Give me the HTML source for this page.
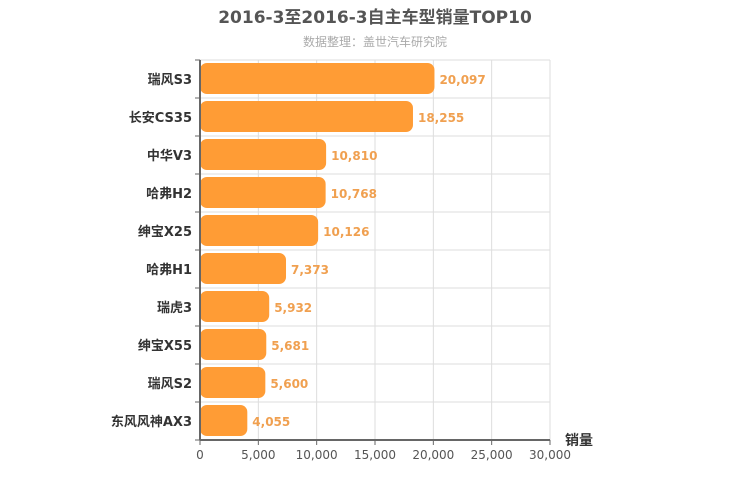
<!DOCTYPE html>
<html><head><meta charset="utf-8"><style>
body{margin:0;background:#fff;}
svg{display:block;font-family:"DejaVu Sans","Liberation Sans","Noto Sans CJK SC",sans-serif;}
</style></head><body>
<svg id="c" width="750" height="500">
<text x="375" y="23" text-anchor="middle" font-size="17" font-weight="bold" fill="#555">2016-3至2016-3自主车型销量TOP10</text>
<text x="375" y="46" text-anchor="middle" font-size="12" fill="#aaa">数据整理：盖世汽车研究院</text>
<g id="grid"></g><g id="bars"></g><g id="axes"></g>
<text x="565" y="445" font-size="14" font-weight="bold" fill="#333">销量</text>
</svg>
<script>
const categories=["瑞风S3","长安CS35","中华V3","哈弗H2","绅宝X25","哈弗H1","瑞虎3","绅宝X55","瑞风S2","东风风神AX3"];
const values=[20097,18255,10810,10768,10126,7373,5932,5681,5600,4055];
const ticks=[0,5000,10000,15000,20000,25000,30000];
const NS="http://www.w3.org/2000/svg";
const x0=200,x1=550,y0=60,y1=440,xmax=30000;
const xs=v=>x0+(v/xmax)*(x1-x0);
const band=(y1-y0)/categories.length;
const ys=i=>y0+i*band;
function mk(p,t,a){const e=document.createElementNS(NS,t);for(const k in a)e.setAttribute(k,a[k]);p.appendChild(e);return e;}
const grid=document.getElementById('grid'),bars=document.getElementById('bars'),axes=document.getElementById('axes');
ticks.forEach(t=>{
 const l=mk(grid,'line',{x1:xs(t),x2:xs(t),y1:y0,y2:y1,stroke:'#ddd'});
 
 
 const tx=mk(axes,'text',{x:xs(t),y:y1+19,'text-anchor':'middle','font-size':12,fill:'#555'});
 tx.textContent=t.toLocaleString('en-US');
 
 
 const tk=mk(axes,'line',{x1:xs(t),x2:xs(t),y1:y1,y2:y1+5,stroke:'#666'});
 
 
});
for(let i=0;i<=categories.length;i++){
 const l=mk(grid,'line',{x1:x0,x2:x1,y1:ys(i),y2:ys(i),stroke:'#ddd'});
 
 
 const tk=mk(axes,'line',{x1:x0-5,x2:x0,y1:ys(i),y2:ys(i),stroke:'#666'});
 
 
}
categories.forEach((c,i)=>{
 const y=ys(i);
 const r=mk(bars,'rect',{x:x0,y:y+3,width:xs(values[i])-x0,height:band-7,rx:7,fill:'#ff9c35'});
 
 
 const v=mk(bars,'text',{x:xs(values[i])+5,y:y+band/2+5,'font-size':12,'font-weight':'bold',fill:'#f0a050'});
 v.textContent=values[i].toLocaleString('en-US');
 
 
 const lb=mk(axes,'text',{x:x0-8,y:y+band/2+5,'text-anchor':'end','font-size':13,'font-weight':'bold',fill:'#333'});
 lb.textContent=c;
 
 
});
const ax=mk(axes,'line',{x1:x0,x2:x1,y1:y1,y2:y1,stroke:'#666','stroke-width':2});


const ay=mk(axes,'line',{x1:x0,x2:x0,y1:y0,y2:y1,stroke:'#666','stroke-width':2});


</script>
</body></html>
